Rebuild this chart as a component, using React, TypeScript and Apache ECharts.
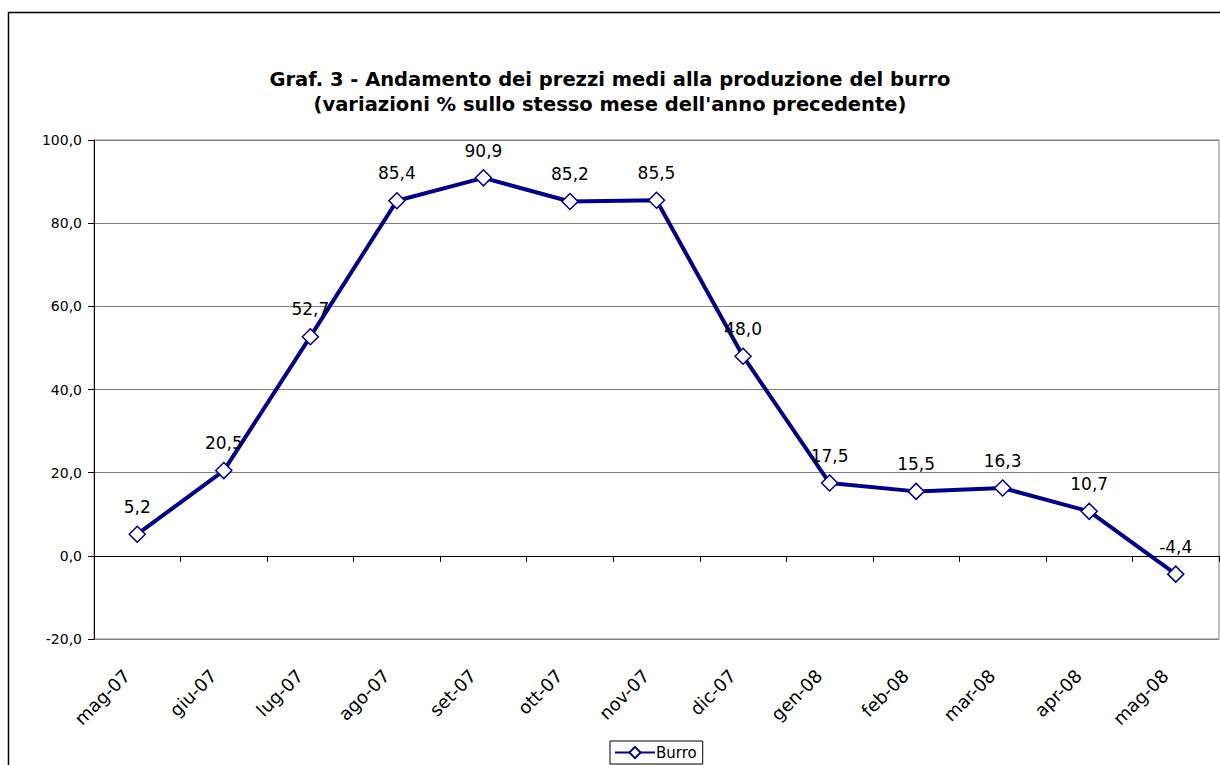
import React, { useEffect, useRef } from "react";
import * as echarts from "echarts";

const categories = ["mag-07", "giu-07", "lug-07", "ago-07", "set-07", "ott-07", "nov-07", "dic-07", "gen-08", "feb-08", "mar-08", "apr-08", "mag-08"];
const burro = [5.2, 20.5, 52.7, 85.4, 90.9, 85.2, 85.5, 48.0, 17.5, 15.5, 16.3, 10.7, -4.4];
const titleLines = ["Graf. 3 - Andamento dei prezzi medi alla produzione del burro", "(variazioni % sullo stesso mese dell'anno precedente)"];
const seriesName = "Burro";

const fmt = (v: number) => v.toFixed(1).replace(".", ",");

export default function App() {
  const ref = useRef<HTMLDivElement>(null);
  useEffect(() => {
    if (!ref.current) return;
    const chart = echarts.init(ref.current, null, { renderer: "svg" });
    const font = "DejaVu Sans";
    chart.setOption({
      animation: false,
      backgroundColor: "#ffffff",
      textStyle: { fontFamily: font },
      title: {
        text: titleLines.join("\n"),
        left: "center",
        top: 62,
        textStyle: { fontSize: 19.5, fontWeight: "bold", color: "#000", lineHeight: 25, fontFamily: font },
      },
      graphic: [
        {
          type: "rect",
          shape: { x: 8.5, y: 12.5, width: 1240, height: 800 },
          style: { fill: "none", stroke: "#000", lineWidth: 1.5 },
          z: 100,
          silent: true,
        },
      ],
      legend: {
        data: [seriesName],
        left: 610,
        top: 741,
        itemWidth: 40,
        itemHeight: 14,
        itemGap: 2,
        padding: [4, 6, 4, 4],
        borderColor: "#000",
        borderWidth: 1,
        textStyle: { fontSize: 15, color: "#000", fontFamily: font, padding: [0, 0, 0, -4] },
      },
      grid: {
        left: 94,
        right: 1,
        top: 140,
        bottom: 126,
        show: true,
        borderColor: "#808080",
        borderWidth: 1,
      },
      xAxis: [
        {
          type: "category",
          data: categories,
          boundaryGap: true,
          position: "bottom",
          axisLine: { onZero: false, show: false },
          axisTick: { show: false },
          axisLabel: {
            rotate: 45,
            fontSize: 18,
            color: "#000",
            margin: 23,
            padding: [0, 15, 0, 0],
            fontFamily: font,
          },
          splitLine: { show: false },
        },
        {
          type: "category",
          data: categories,
          boundaryGap: true,
          position: "bottom",
          axisLine: { onZero: true, show: true, lineStyle: { color: "#000", width: 1 } },
          axisTick: { show: true, inside: false, length: 6, alignWithLabel: false, lineStyle: { color: "#000" } },
          axisLabel: { show: false },
          splitLine: { show: false },
        },
      ],
      yAxis: {
        type: "value",
        min: -20,
        max: 100,
        interval: 20,
        axisLine: { show: true, onZero: false, lineStyle: { color: "#000", width: 1 } },
        axisTick: { show: true, length: 6, lineStyle: { color: "#000" } },
        axisLabel: { formatter: (v: number) => fmt(v), fontSize: 14, color: "#000", margin: 12, fontFamily: font },
        splitLine: { show: true, lineStyle: { color: "#808080", width: 1 } },
      },
      series: [
        {
          name: seriesName,
          type: "line",
          xAxisIndex: 0,
          data: burro,
          symbol: "diamond",
          symbolSize: 16,
          lineStyle: { color: "#000080", width: 4 },
          itemStyle: { color: "#ffffff", borderColor: "#000080", borderWidth: 1.5 },
          label: {
            show: true,
            position: "top",
            distance: 10,
            formatter: (p: any) => fmt(p.value),
            fontSize: 17,
            color: "#000",
            fontFamily: font,
          },
          z: 5,
        },
      ],
    });
    return () => chart.dispose();
  }, []);
  return <div ref={ref} style={{ position: "fixed", left: 0, top: 0, width: 1220, height: 765 }} />;
}
